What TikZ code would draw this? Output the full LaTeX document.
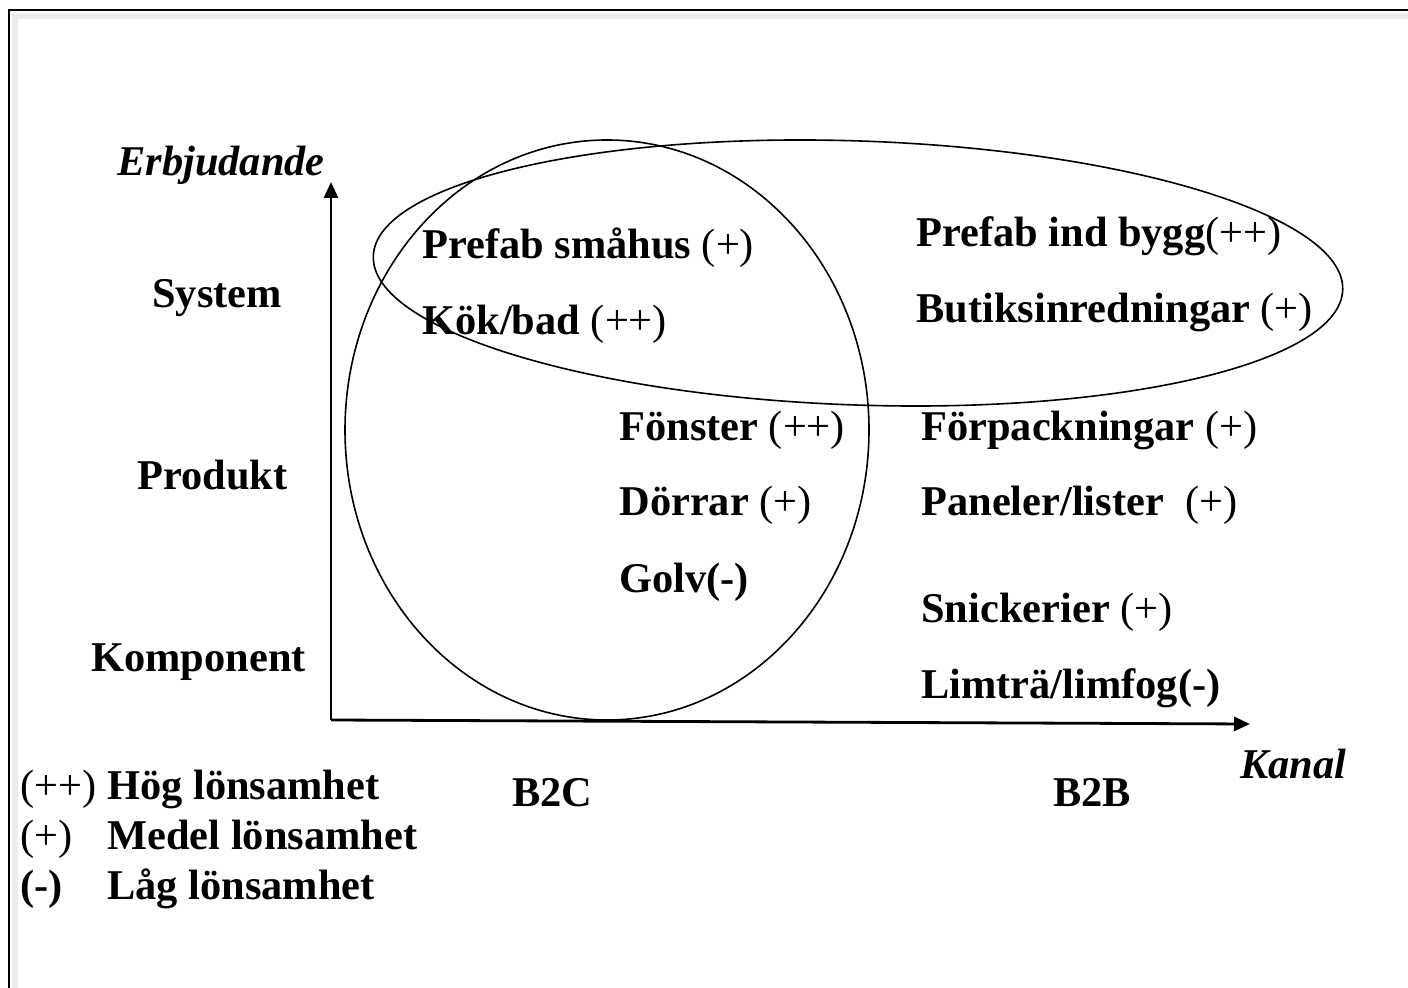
\documentclass[tikz,border=0pt]{standalone}
\usepackage{fontspec}
\setmainfont{Liberation Serif}
\usetikzlibrary{positioning,arrows.meta}

\begin{document}
\begin{tikzpicture}[
  x=0.5pt,y=-0.5pt,
  axis/.style={
    line width=1.4pt,
    -{Triangle[length=8pt,width=7pt]}
  },
  region/.style={
    line width=0.8pt
  },
  itemtext/.style={
    anchor=base west,
    inner sep=0pt,
    font=\fontsize{21.2}{25}\selectfont\bfseries
  },
  axistext/.style={
    itemtext,
    font=\fontsize{21.2}{25}\selectfont\bfseries\itshape
  }]
  \useasboundingbox (0,0) rectangle (1408,988);
  % frame
  \draw[gray!15,line width=3pt] (15,16) rectangle (1440,1010);
  \draw[line width=1pt] (9,10) rectangle (1440,1010);
  % axes
  \coordinate (origin) at (331,720);
  \coordinate (ytip) at (331,182);
  \coordinate (xtip) at (1250,724);
  \draw[axis] (origin) -- (ytip);
  \draw[axis] (origin) -- (xtip);
  \node[axistext] (erbjudande) at (117,176) {Erbjudande};
  \node[axistext] (kanal) at (1240,778) {Kanal};
  % levels
  \node[itemtext] (system) at (152,308) {System};
  \node[itemtext] (produkt) at (137,490) {Produkt};
  \node[itemtext] (komponent) at (91,671) {Komponent};
  % channels
  \node[itemtext] (btoc) at (512,806) {B2C};
  \node[itemtext] (btob) at (1053,806) {B2B};
  % regions
  \draw[region] (607,430) ellipse [x radius=131pt, y radius=145pt];
  \draw[region,rotate around={-2:(858,273)}] (858,273) ellipse [x radius=242.5pt, y radius=66pt];
  % B2C items
  \node[itemtext] (smahus) at (422,259) {Prefab småhus \textmd{(+)}};
  \node[itemtext] (kokbad) at (422,335) {Kök/bad \textmd{(++)}};
  \node[itemtext] (fonster) at (619,441) {Fönster \textmd{(++)}};
  \node[itemtext] (dorrar) at (619,516) {Dörrar \textmd{(+)}};
  \node[itemtext] (golv) at (619,593) {Golv(-)};
  % B2B items
  \node[itemtext] (indbygg) at (916,247) {Prefab ind bygg\textmd{(++)}};
  \node[itemtext] (butik) at (916,323) {Butiksinredningar \textmd{(+)}};
  \node[itemtext] (forpack) at (921,441) {Förpackningar \textmd{(+)}};
  \node[itemtext] (paneler) at (921,516) {Paneler/lister\ \ \textmd{(+)}};
  \node[itemtext] (snickerier) at (921,623) {Snickerier \textmd{(+)}};
  \node[itemtext] (limtra) at (921,698) {Limträ/limfog(-)};
  % legend
  \node[itemtext] (hog) at (20,799) {\makebox[43.5pt][l]{\textmd{(++)}}Hög lönsamhet};
  \node[itemtext] (medel) at (20,849) {\makebox[43.5pt][l]{\textmd{(+)}}Medel lönsamhet};
  \node[itemtext] (lag) at (20,899) {\makebox[43.5pt][l]{(-)}Låg lönsamhet};
\end{tikzpicture}
\end{document}
